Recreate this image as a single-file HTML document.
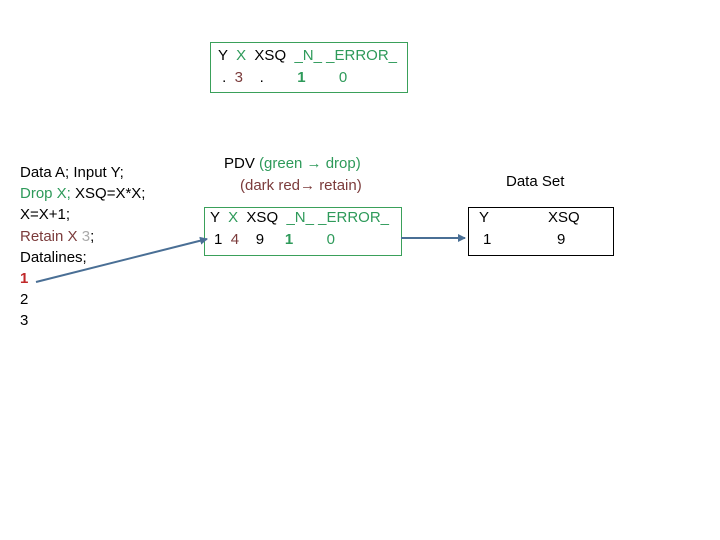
<!DOCTYPE html>
<html><head><meta charset="utf-8"><style>
body{margin:0;width:720px;height:540px;background:#fff;position:relative;font-family:"Liberation Sans",sans-serif;font-size:15px;color:#000;overflow:hidden}
.t{position:absolute;white-space:pre;line-height:20px}
.g{color:#2e9a5a}.r{color:#7b3b3b}.b{color:#c0282a;font-weight:bold}.gr{color:#aaa}
.box{position:absolute;border:1px solid #3aa05a}
</style></head><body>
<div class="box" style="left:210px;top:42px;width:196px;height:49px"></div>
<div class="t" style="left:218px;top:46px">Y  <span class="g">X</span>  XSQ  <span class="g">_N_ _ERROR_</span></div>
<div class="t" style="left:218px;top:68px"> .  <span class="r">3</span>    .        <span class="g"><b>1</b>        0</span></div>

<div class="t" style="left:224px;top:154px">PDV <span class="g">(green → drop)</span></div>
<div class="t r" style="left:240px;top:176px">(dark red→ retain)</div>
<div class="box" style="left:204px;top:207px;width:196px;height:47px"></div>
<div class="t" style="left:210px;top:208px">Y  <span class="g">X</span>  XSQ  <span class="g">_N_ _ERROR_</span></div>
<div class="t" style="left:214px;top:230px">1  <span class="r">4</span>    9     <span class="g"><b>1</b>        0</span></div>

<div class="t" style="left:506px;top:172px">Data Set</div>
<div style="position:absolute;left:468px;top:207px;width:144px;height:47px;border:1px solid #000"></div>
<div class="t" style="left:479px;top:208px">Y</div>
<div class="t" style="left:483px;top:230px">1</div>
<div class="t" style="left:548px;top:208px">XSQ</div>
<div class="t" style="left:557px;top:230px">9</div>

<div class="t" style="left:20px;top:162px;line-height:21.2px">Data A; Input Y;
<span class="g">Drop X;</span> XSQ=X*X;
X=X+1;
<span class="r">Retain X</span> <span class="gr">3</span>;
Datalines;
<span class="b">1</span>
2
3</div>

<svg style="position:absolute;left:0;top:0" width="720" height="540">
<defs><marker id="a" markerWidth="8" markerHeight="8" refX="7" refY="4" orient="auto" markerUnits="userSpaceOnUse"><path d="M0,0 L8,4 L0,8 z" fill="#4a6f95"/></marker></defs>
<line x1="36" y1="282" x2="207" y2="239" stroke="#4a6f95" stroke-width="2" marker-end="url(#a)"/>
<line x1="401" y1="238" x2="465" y2="238" stroke="#4a6f95" stroke-width="2" marker-end="url(#a)"/>
</svg>
</body></html>
